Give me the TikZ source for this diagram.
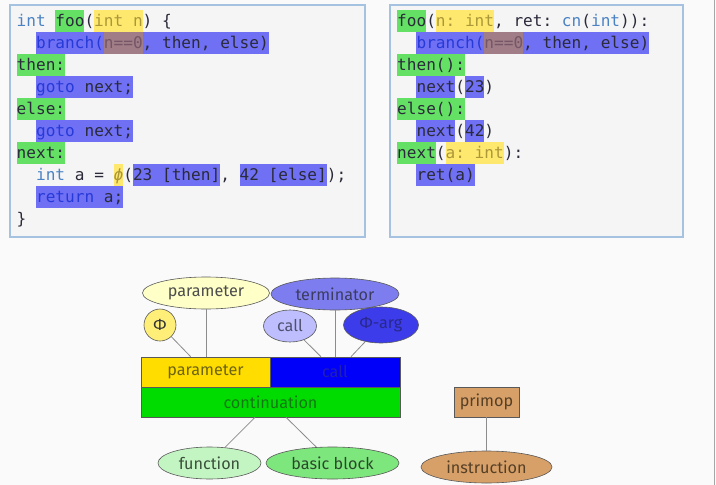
\documentclass[tikz,border=0pt]{standalone}
\usepackage{fontspec}
\setmainfont{Fira Sans}
\setmonofont{DejaVu Sans Mono}
\usetikzlibrary{shapes.geometric}

\definecolor{pagebg}{RGB}{250,250,250}
\definecolor{boxbg}{RGB}{245,245,245}
\definecolor{boxline}{RGB}{165,195,225}
\definecolor{codetext}{RGB}{42,42,58}
\definecolor{kwtext}{RGB}{74,130,196}
\definecolor{kbtext}{RGB}{38,58,215}
\definecolor{yltext}{RGB}{170,152,56}
\definecolor{mvtext}{RGB}{118,86,102}
\definecolor{hlgreen}{RGB}{100,225,100}
\definecolor{hlyellow}{RGB}{255,232,110}
\definecolor{hlblue}{RGB}{112,112,245}
\definecolor{hlmauve}{RGB}{160,125,135}
\definecolor{linkgray}{RGB}{140,140,140}

% code colouring
\newcommand{\kw}[1]{\textcolor{kwtext}{#1}}
\newcommand{\kb}[1]{\textcolor{kbtext}{#1}}
\newcommand{\ky}[1]{\textcolor{yltext}{#1}}
\newcommand{\km}[1]{\textcolor{mvtext}{#1}}
% highlight: colour, left x, line, first char, last char
\newcommand{\hlbox}[5]{\fill[#1] ({#2+#4*9.7},{10+22*#3}) rectangle ({#2+#5*9.7},{32+22*#3});}

\begin{document}
\begin{tikzpicture}[x=1pt,y=-1pt,
  code/.style={anchor=base west, inner sep=0pt, text=codetext,
    font=\ttfamily\fontsize{16.1}{22}\selectfont},
  part/.style={draw=black!65, line width=0.6pt, inner sep=0pt,
    font=\fontsize{16.2}{19}\selectfont},
  oval/.style={part, ellipse, minimum height=32},
  block/.style={part, rectangle, minimum height=30},
  link/.style={draw=linkgray, line width=0.8pt}]

\fill[pagebg] (0,0) rectangle (716,485);
\useasboundingbox (0,0) rectangle (716,485);
\draw[gray!70, line width=1pt] (714,0) -- (714,485);

%% C code
\draw[boxline, fill=boxbg, line width=1.2pt] (10,5) rectangle (365,237);
\hlbox{hlgreen}{16.5}{0}{4}{7}
\hlbox{hlyellow}{16.5}{0}{8}{13}
\hlbox{hlblue}{16.5}{1}{2}{26}
\hlbox{hlmauve}{16.5}{1}{9}{13}
\hlbox{hlgreen}{16.5}{2}{0}{5}
\hlbox{hlblue}{16.5}{3}{2}{12}
\hlbox{hlgreen}{16.5}{4}{0}{5}
\hlbox{hlblue}{16.5}{5}{2}{12}
\hlbox{hlgreen}{16.5}{6}{0}{5}
\hlbox{hlyellow}{16.5}{7}{10}{11}
\hlbox{hlblue}{16.5}{7}{12}{21}
\hlbox{hlblue}{16.5}{7}{23}{32}
\hlbox{hlblue}{16.5}{8}{2}{11}

\node[code] (c0) at (16.5,26) {\kw{int} foo(\ky{int n}) \{};
\node[code] (c1) at (35.9,48) {\kb{branch(}\km{n==0}, then, else)};
\node[code] (c2) at (16.5,70) {then:};
\node[code] (c3) at (35.9,92) {\kb{goto} next;};
\node[code] (c4) at (16.5,114) {else:};
\node[code] (c5) at (35.9,136) {\kb{goto} next;};
\node[code] (c6) at (16.5,158) {next:};
\node[code] (c7) at (35.9,180) {\kw{int} a = \ky{\itshape ϕ}(23 [then], 42 [else]);};
\node[code] (c8) at (35.9,202) {\kb{return} a;};
\node[code] (c9) at (16.5,224) {\}};

%% CPS code
\draw[boxline, fill=boxbg, line width=1.2pt] (390,5) rectangle (683,237);
\hlbox{hlgreen}{397}{0}{0}{3}
\hlbox{hlyellow}{397}{0}{4}{10}
\hlbox{hlblue}{397}{1}{2}{26}
\hlbox{hlmauve}{397}{1}{9}{13}
\hlbox{hlgreen}{397}{2}{0}{7}
\hlbox{hlblue}{397}{3}{2}{6}
\hlbox{hlblue}{397}{3}{7}{9}
\hlbox{hlgreen}{397}{4}{0}{7}
\hlbox{hlblue}{397}{5}{2}{6}
\hlbox{hlblue}{397}{5}{7}{9}
\hlbox{hlgreen}{397}{6}{0}{4}
\hlbox{hlyellow}{397}{6}{5}{11}
\hlbox{hlblue}{397}{7}{2}{8}

\node[code] (k0) at (397,26) {foo(\ky{n: int}, ret: \kw{cn}(\kw{int})):};
\node[code] (k1) at (416.4,48) {\kb{branch(}\km{n==0}, then, else)};
\node[code] (k2) at (397,70) {then():};
\node[code] (k3) at (416.4,92) {next(23)};
\node[code] (k4) at (397,114) {else():};
\node[code] (k5) at (416.4,136) {next(42)};
\node[code] (k6) at (397,158) {next(\ky{a: int}):};
\node[code] (k7) at (416.4,180) {ret(a)};

%% concepts
\node[oval, fill={rgb,255:red,255;green,255;blue,200}, text=black!70, minimum width=127] (paramoval) at (206,293) {parameter};
\node[oval, fill={rgb,255:red,125;green,125;blue,240}, text={rgb,255:red,60;green,60;blue,96}, minimum width=128] (term) at (335,294) {terminator};
\node[part, circle, fill={rgb,255:red,255;green,238;blue,120}, text=black!80, minimum size=32] (phi) at (160,325) {Φ};
\node[oval, fill={rgb,255:red,190;green,190;blue,255}, text={rgb,255:red,80;green,80;blue,112}, minimum width=53] (calloval) at (290,326) {call};
\node[oval, fill={rgb,255:red,60;green,60;blue,235}, text={rgb,255:red,40;green,40;blue,140}, minimum width=75, minimum height=36] (phiarg) at (381,325) {Φ-arg};

\node[block, fill={rgb,255:red,255;green,221;blue,0}, text={rgb,255:red,110;green,100;blue,16}, minimum width=129] (paramrect) at (205.5,372) {parameter};
\node[block, fill={rgb,255:red,0;green,0;blue,250}, text={rgb,255:red,32;green,32;blue,176}, minimum width=130] (callrect) at (335,372) {call};
\node[block, fill={rgb,255:red,0;green,220;blue,0}, text={rgb,255:red,20;green,120;blue,20}, minimum width=259] (cont) at (270.5,402) {continuation};

\node[oval, fill={rgb,255:red,195;green,245;blue,195}, text={rgb,255:red,58;green,80;blue,58}, minimum width=103] (func) at (209.5,463) {function};
\node[oval, fill={rgb,255:red,125;green,230;blue,125}, text={rgb,255:red,42;green,74;blue,42}, minimum width=133] (bb) at (332.5,463) {basic block};

\node[block, fill={rgb,255:red,215;green,160;blue,105}, text={rgb,255:red,85;green,63;blue,37}, minimum width=65] (primop) at (486.5,402) {primop};
\node[oval, fill={rgb,255:red,215;green,160;blue,105}, text={rgb,255:red,85;green,63;blue,37}, minimum width=131] (instr) at (486.5,467) {instruction};

\draw[link] (phi) -- ([xshift=50pt]paramrect.north west);
\draw[link] (paramoval) -- (paramoval |- paramrect.north);
\draw[link] (calloval) -- ([xshift=-14pt]callrect.north);
\draw[link] (term) -- (term |- callrect.north);
\draw[link] (phiarg) -- ([xshift=16pt]callrect.north);
\draw[link] ([xshift=-15.5pt]cont.south) -- (func);
\draw[link] ([xshift=15.5pt]cont.south) -- (bb);
\draw[link] (primop) -- (instr);

\end{tikzpicture}
\end{document}
